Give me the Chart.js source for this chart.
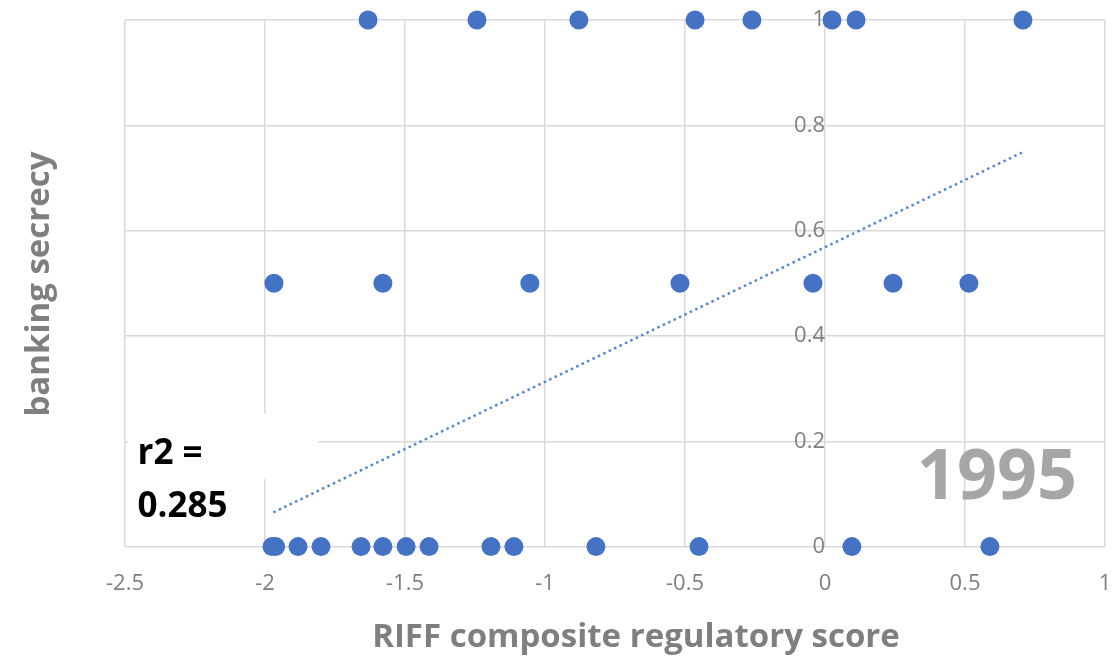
<!DOCTYPE html>
<html>
<head>
<meta charset="utf-8">
<script src="https://cdn.jsdelivr.net/npm/chart.js@4.4.1/dist/chart.umd.min.js"></script>
<style>
  html, body { margin: 0; padding: 0; background: #fff; }
  #wrap { width: 1118px; height: 660px; }
</style>
</head>
<body>
<div id="wrap"><canvas id="scatterChart" width="1118" height="660"></canvas></div>
<script>
// RIFF score (x) vs banking secrecy (y), 1995
const xOnes = [-1.632, -1.243, -0.879, -0.464, -0.261, 0.025, 0.111, 0.707];
const xHalves = [-1.968, -1.579, -1.054, -0.518, -0.043, 0.243, 0.514];
const xZeros = [-1.975, -1.962, -1.882, -1.8, -1.657, -1.579, -1.496, -1.414, -1.193, -1.111, -0.818, -0.45, 0.096, 0.589];
const trendX = [-1.97, 0.71];
const trendY = [0.065, 0.75];
const r2Label = ['r2 =', '0.285'];
const yearLabel = '1995';

const points = [
    ...xOnes.map(x => ({ x: x, y: 1 })),
    ...xHalves.map(x => ({ x: x, y: 0.5 })),
    ...xZeros.map(x => ({ x: x, y: 0 }))
];
const trend = trendX.map((x, i) => ({ x: x, y: trendY[i] }));

const FONT = "'Open Sans', 'Liberation Sans', sans-serif";
const fmt = v => String(+Number(v).toFixed(2));
// sin relleno extra por las etiquetas de los extremos
const noEdgePadding = scale => {
    scale.paddingTop = 0; scale.paddingBottom = 0;
    scale.paddingLeft = 0; scale.paddingRight = 0;
};

// Textos extra: títulos de ejes, r2 y año
const extras = {
    id: 'extras',
    beforeDatasetsDraw(chart) {
        const { ctx, scales: { x, y } } = chart;
        // caja blanca detrás de "r2 ="
        ctx.save();
        ctx.fillStyle = '#ffffff';
        const x0 = x.getPixelForValue(-2.49), x1 = x.getPixelForValue(-1.81);
        const y0 = y.getPixelForValue(0.253), y1 = y.getPixelForValue(0.128);
        ctx.fillRect(x0, y0, x1 - x0, y1 - y0);
        ctx.restore();
    },
    afterDraw(chart) {
        const { ctx, scales: { x, y } } = chart;
        ctx.save();
        ctx.fillStyle = '#7f7f7f';
        ctx.font = `bold 33px ${FONT}`;
        ctx.textAlign = 'center';
        ctx.textBaseline = 'middle';
        ctx.fillText('RIFF composite regulatory score', 636, 638);
        // título eje Y
        ctx.translate(40, 284);
        ctx.rotate(-Math.PI / 2);
        ctx.fillText('banking secrecy', 0, 0);
        ctx.restore();

        ctx.save();
        ctx.fillStyle = '#000000';
        ctx.font = `bold 35px ${FONT}`;
        ctx.textAlign = 'left';
        ctx.textBaseline = 'middle';
        ctx.fillText(r2Label[0], x.getPixelForValue(-2.455), y.getPixelForValue(0.175));
        ctx.fillText(r2Label[1], x.getPixelForValue(-2.455), y.getPixelForValue(0.076));

        ctx.fillStyle = '#a6a6a6';
        ctx.font = `bold 70px ${FONT}`;
        ctx.textAlign = 'center';
        ctx.fillText(yearLabel, x.getPixelForValue(0.614), y.getPixelForValue(0.128));
        ctx.restore();
    }
};

const ctxScatter = document.getElementById('scatterChart').getContext('2d');
const scatterChart = new Chart(ctxScatter, {
    type: 'scatter',
    data: {
        datasets: [{
            label: 'banking secrecy',
            data: points,
            backgroundColor: '#4472C4',
            borderColor: '#4472C4',
            pointRadius: 9.5,
            pointHoverRadius: 9.5,
            borderWidth: 0,
            clip: false,
            order: 1
        }, {
            type: 'line',
            label: 'trend',
            data: trend,
            borderColor: '#5585cf',
            borderWidth: 2.5,
            borderDash: [2.5, 3.5],
            pointRadius: 0,
            fill: false,
            order: 2
        }]
    },
    options: {
        responsive: false,
        animation: false,
        layout: { autoPadding: false, padding: { left: 125, right: 13, top: 20, bottom: 39 } },
        plugins: { legend: { display: false }, tooltip: { enabled: false } },
        scales: {
            x: {
                type: 'linear',
                min: -2.5,
                max: 1,
                afterFit: noEdgePadding,
                ticks: { stepSize: 0.5, color: '#7f7f7f', font: { family: FONT, size: 22 }, padding: 24, callback: fmt },
                grid: { color: '#d9d9d9', lineWidth: 1.5, drawTicks: false },
                border: { display: false }
            },
            y: {
                type: 'linear',
                position: { x: 0 },
                min: 0,
                max: 1,
                afterFit: noEdgePadding,
                ticks: { stepSize: 0.2, color: '#7f7f7f', font: { family: FONT, size: 22 }, padding: 14, callback: fmt },
                grid: { color: '#d9d9d9', lineWidth: 1.5, drawTicks: false },
                border: { display: false }
            }
        }
    },
    plugins: [extras]
});
</script>
</body>
</html>
